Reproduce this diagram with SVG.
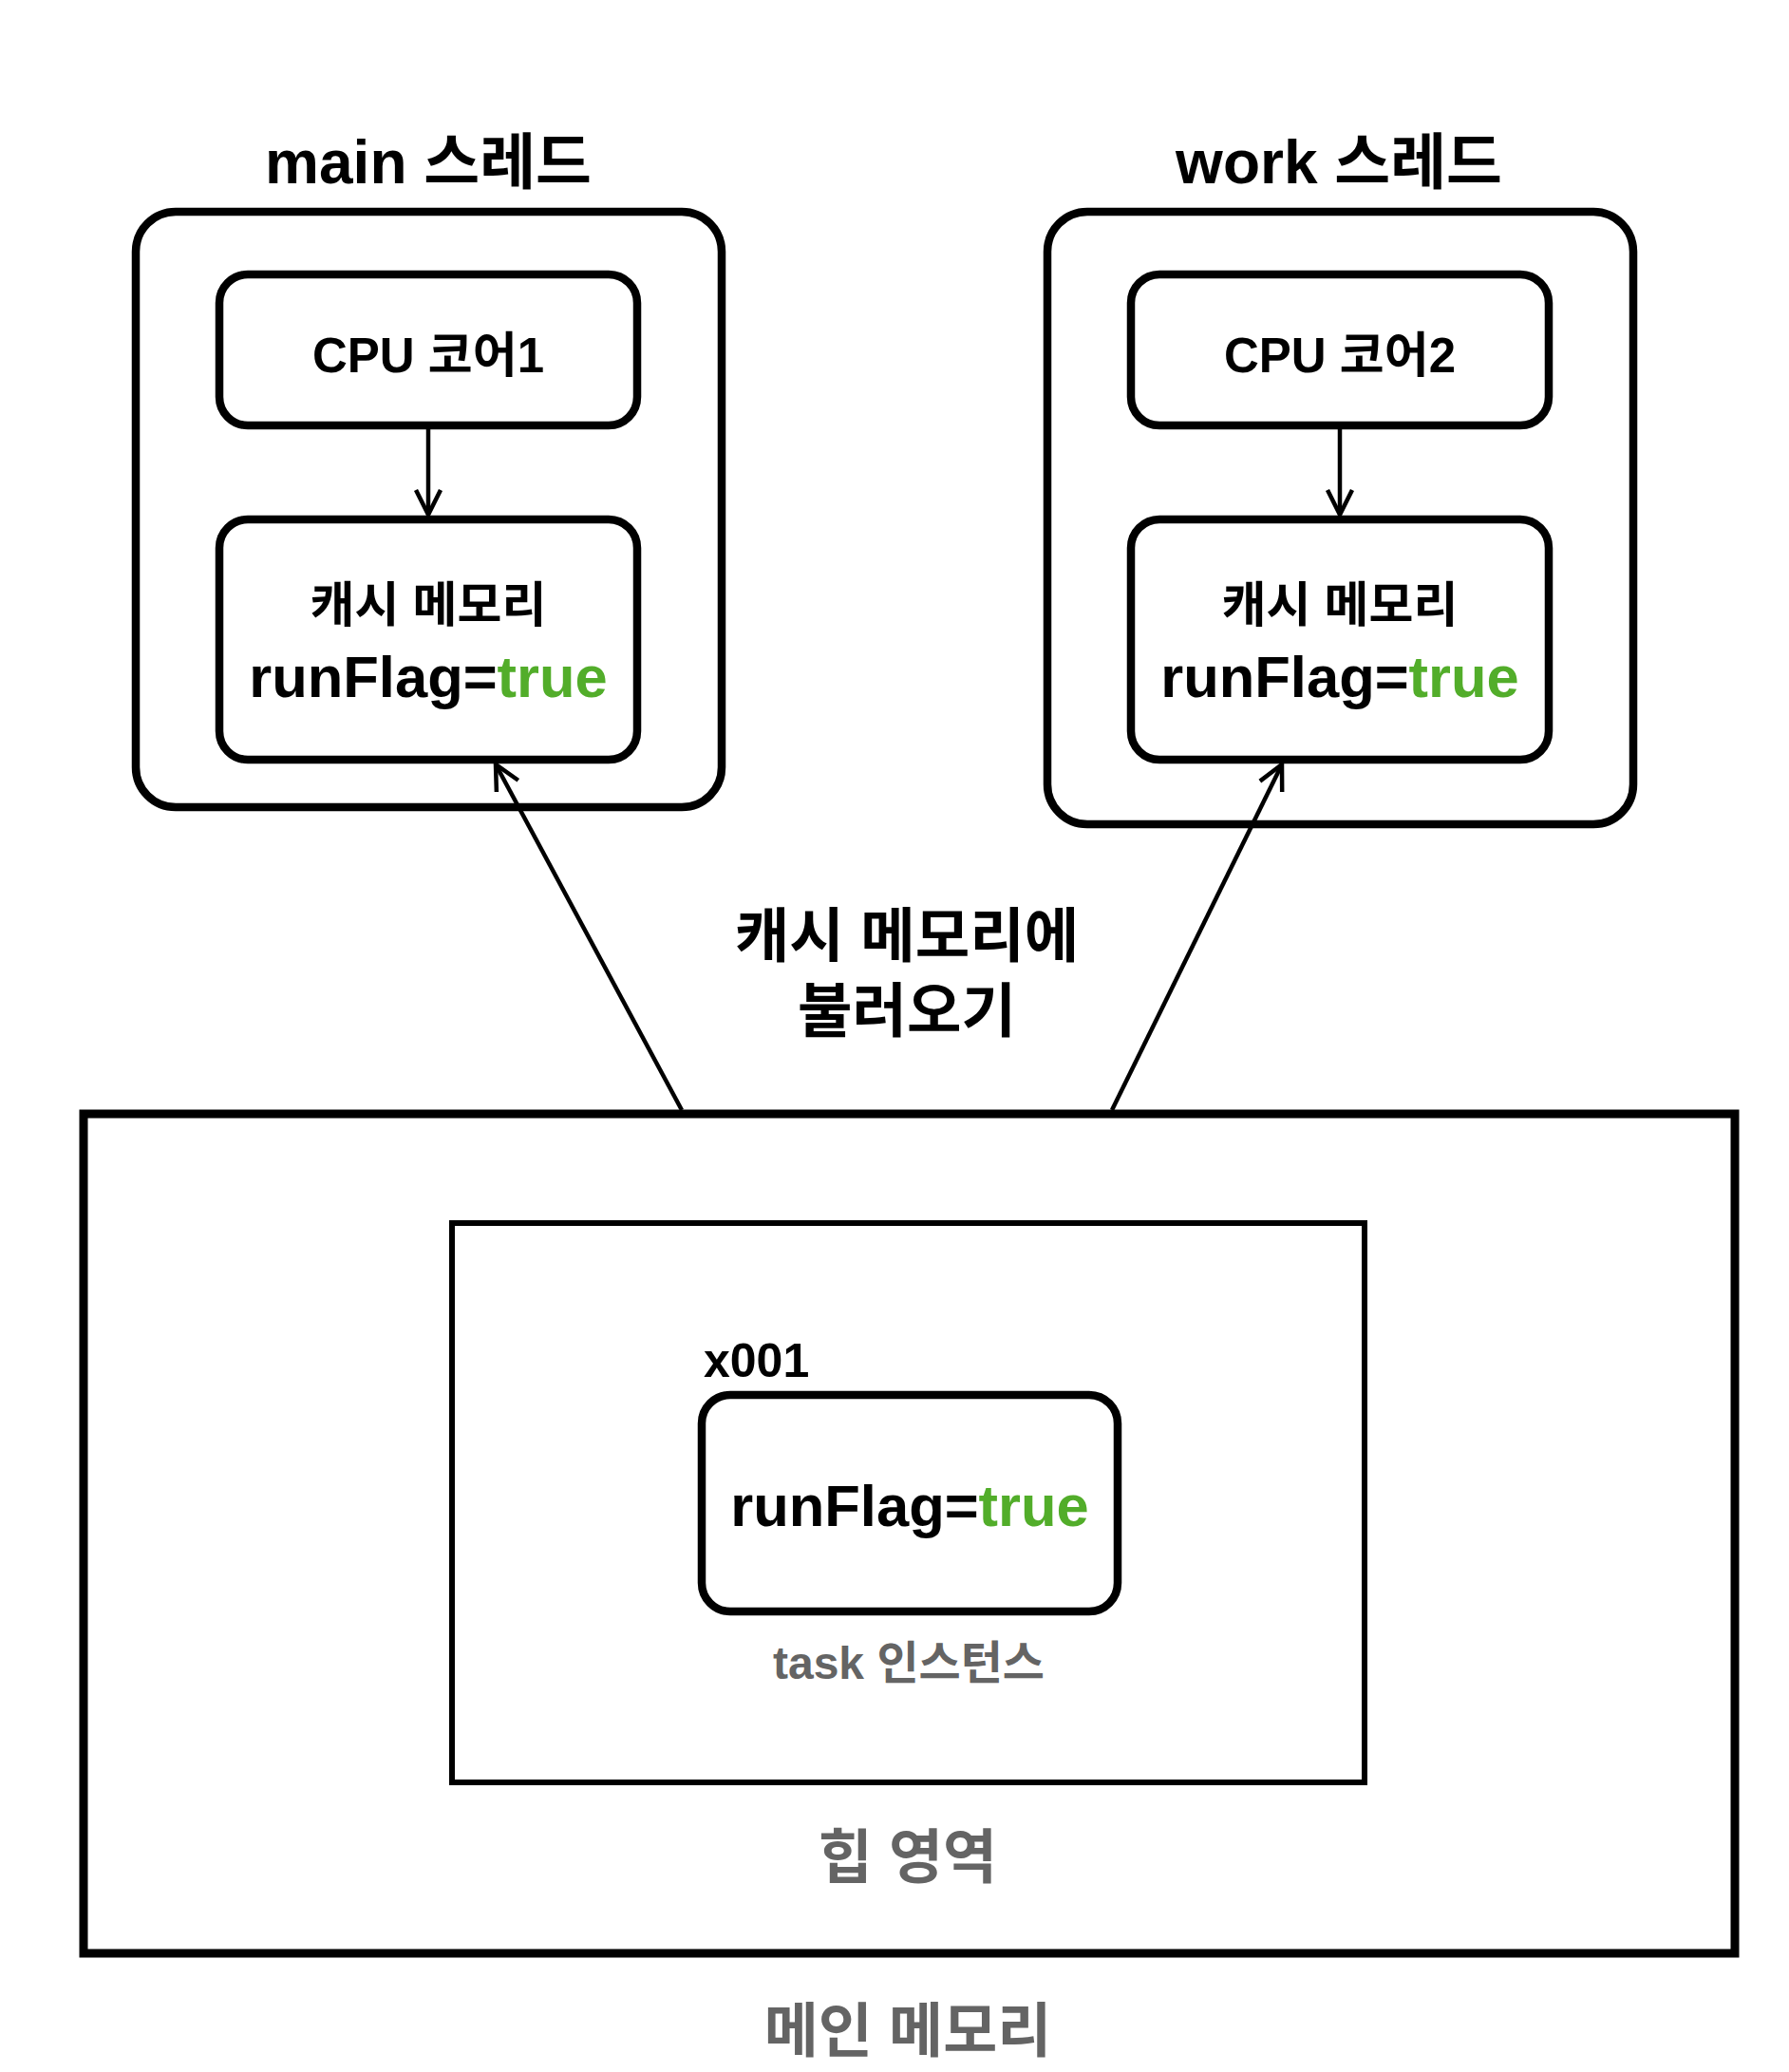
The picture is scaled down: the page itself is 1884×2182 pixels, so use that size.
<svg xmlns="http://www.w3.org/2000/svg" width="1884" height="2182" viewBox="0 0 1884 2182">
  <style>
    .box{fill:#fff;stroke:#000;stroke-width:8.5}
    .t{font-family:"Liberation Sans","Noto Sans CJK KR",sans-serif;font-weight:bold;fill:#000;text-anchor:middle}
    .g{fill:#52ad2a}
    .gray{fill:#646464}
    .conn{stroke:#000;stroke-width:4.5;fill:none}
  </style>
  <defs>
    <marker id="arr" viewBox="0 0 34 34" refX="31" refY="17" markerWidth="34" markerHeight="34" markerUnits="userSpaceOnUse" orient="auto">
      <path d="M5,4 L31,17 L5,30" fill="none" stroke="#000" stroke-width="4.5"/>
    </marker>
  </defs>
  <rect width="1884" height="2182" fill="#fff"/>

  <g id="main-memory">
    <rect x="88" y="1173" width="1739" height="884" fill="#fff" stroke="#000" stroke-width="9"/>
    <text class="t gray" x="956" y="2161" font-size="62">메인 메모리</text>
  </g>
  <g id="heap">
    <rect x="476" y="1288" width="961" height="589" fill="#fff" stroke="#000" stroke-width="6"/>
    <text class="t gray" x="956" y="1978" font-size="62">힙 영역</text>
  </g>
  <g id="task-instance">
    <text class="t" x="741" y="1450" font-size="50" style="text-anchor:start">x001</text>
    <rect class="box" x="739" y="1469" width="438" height="228" rx="30"/>
    <text class="t" x="958" y="1607" font-size="61.5">runFlag=<tspan class="g">true</tspan></text>
    <text class="t gray" x="957" y="1768" font-size="48">task 인스턴스</text>
  </g>

  <g id="main-thread">
    <text class="t" x="451" y="193" font-size="64">main 스레드</text>
    <rect class="box" x="143" y="223" width="617" height="627" rx="42"/>
  </g>
  <g id="cpu1">
    <rect class="box" x="231" y="289" width="440" height="159" rx="30"/>
    <text class="t" x="451" y="392" font-size="51">CPU 코어1</text>
  </g>
  <g id="cache1">
    <rect class="box" x="231" y="547" width="440" height="253" rx="30"/>
    <text class="t" x="451" y="655" font-size="51">캐시 메모리</text>
    <text class="t" x="451" y="734" font-size="61.5">runFlag=<tspan class="g">true</tspan></text>
  </g>

  <g id="work-thread">
    <text class="t" x="1410" y="193" font-size="64">work 스레드</text>
    <rect class="box" x="1103" y="223" width="617" height="645" rx="42"/>
  </g>
  <g id="cpu2">
    <rect class="box" x="1191" y="289" width="440" height="159" rx="30"/>
    <text class="t" x="1411" y="392" font-size="51">CPU 코어2</text>
  </g>
  <g id="cache2">
    <rect class="box" x="1191" y="547" width="440" height="253" rx="30"/>
    <text class="t" x="1411" y="655" font-size="51">캐시 메모리</text>
    <text class="t" x="1411" y="734" font-size="61.5">runFlag=<tspan class="g">true</tspan></text>
  </g>

  <g id="load-label">
    <text class="t" x="955" y="1008" font-size="62.5">캐시 메모리에</text>
    <text class="t" x="955" y="1087" font-size="62.5">불러오기</text>
  </g>

  <g id="connectors">
    <line class="conn" x1="451" y1="452" x2="451" y2="542" marker-end="url(#arr)"/>
    <line class="conn" x1="1411" y1="452" x2="1411" y2="542" marker-end="url(#arr)"/>
    <line class="conn" x1="718" y1="1169" x2="522" y2="805" marker-end="url(#arr)"/>
    <line class="conn" x1="1171" y1="1169" x2="1350" y2="805" marker-end="url(#arr)"/>
  </g>
</svg>
